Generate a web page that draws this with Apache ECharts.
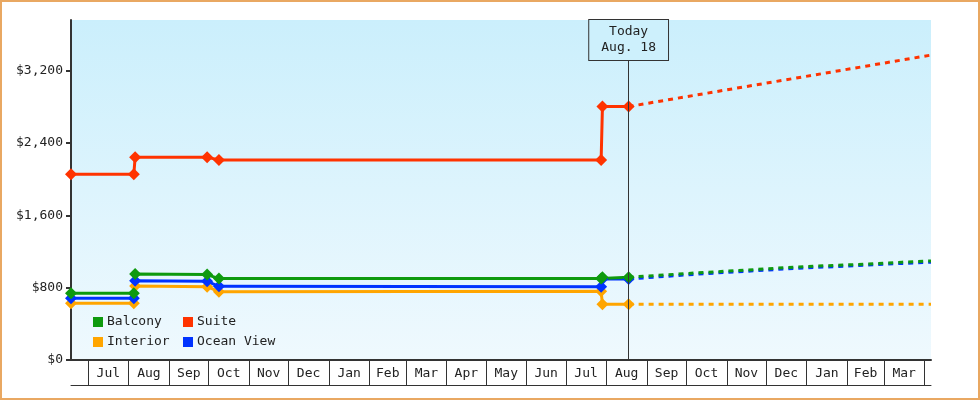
<!DOCTYPE html>
<html>
<head>
<meta charset="utf-8">
<title>Cabin price history</title>
<script src="https://cdn.jsdelivr.net/npm/echarts@6/dist/echarts.min.js"></script>
<style>
  html, body { margin: 0; padding: 0; background: #fff; }
  #chart { width: 980px; height: 400px; box-sizing: border-box; border: 2px solid #e9a862; }
</style>
</head>
<body>
<div id="chart"></div>
<script>
  // price history (solid) and forecast (dashed)
  var histDates = ['2024-06-18', '2024-08-05', '2024-08-06', '2024-09-30', '2024-10-09', '2025-07-28', '2025-07-29', '2025-08-18'];
  var balconyHist = [738, 738, 952, 945, 900, 900, 915, 915];
  var suiteHist = [2055, 2055, 2243, 2243, 2213, 2213, 2803, 2803];
  var interiorHist = [627, 627, 819, 811, 756, 760, 616, 616];
  var oceanHist = [683, 683, 877, 870, 815, 811, 895, 895];

  var forecastDates = ['2025-08-18', '2025-09-15', '2025-10-15', '2025-11-15', '2025-12-15', '2026-01-15', '2026-02-15', '2026-03-15', '2026-04-06'];
  var balconyForecast = [915, 941, 969, 993, 1021, 1042, 1060, 1082, 1095];
  var suiteForecast = [2803, 2872, 2946, 3022, 3096, 3172, 3249, 3318, 3372];
  var interiorForecast = [616, 616, 616, 616, 616, 616, 616, 616, 616];
  var oceanForecast = [895, 925, 955, 980, 1007, 1028, 1048, 1068, 1081];

  var monthTicks = ['2024-07-01', '2024-08-01', '2024-09-01', '2024-10-01', '2024-11-01', '2024-12-01',
    '2025-01-01', '2025-02-01', '2025-03-01', '2025-04-01', '2025-05-01', '2025-06-01', '2025-07-01',
    '2025-08-01', '2025-09-01', '2025-10-01', '2025-11-01', '2025-12-01', '2026-01-01', '2026-02-01',
    '2026-03-01', '2026-04-01'];
  var monthLabels = ['Jul', 'Aug', 'Sep', 'Oct', 'Nov', 'Dec', 'Jan', 'Feb', 'Mar', 'Apr', 'May', 'Jun',
    'Jul', 'Aug', 'Sep', 'Oct', 'Nov', 'Dec', 'Jan', 'Feb', 'Mar'];
  var yTicks = [0, 800, 1600, 2400, 3200];

  var axisMin = '2024-06-18';
  var axisMax = '2026-04-06';
  var yMax = 3760;
  var today = '2025-08-18';
  var todayLabel = 'Today\nAug. 18';

  var font = 'DejaVu Sans Mono';
  var colors = {
    Balcony: '#0e9a0e',
    Suite: '#ff3300',
    Interior: '#ffa500',
    'Ocean View': '#0033ff'
  };

  var toTime = function (d) {
    return new Date(d + 'T00:00:00').getTime();
  };

  // label sits in the middle of each month cell
  var tickTimes = monthTicks.map(toTime);
  var labelTimes = [];
  for (var i = 0; i < tickTimes.length - 1; i++) {
    labelTimes.push((tickTimes[i] + tickTimes[i + 1]) / 2);
  }

  var pair = function (dates, values) {
    return dates.map(function (d, i) {
      return [toTime(d), values[i]];
    });
  };

  var histSeries = function (name, values) {
    return {
      name: name,
      type: 'line',
      data: pair(histDates, values),
      symbol: 'diamond',
      symbolSize: 12,
      showSymbol: true,
      lineStyle: {width: 3, color: colors[name]},
      itemStyle: {color: colors[name]},
      z: 3
    };
  };

  var forecastSeries = function (name, values) {
    return {
      name: name,
      type: 'line',
      data: pair(forecastDates, values),
      symbol: 'none',
      lineStyle: {width: 3, type: [5, 5], color: colors[name]},
      itemStyle: {color: colors[name]},
      z: 2
    };
  };

  var suite = histSeries('Suite', suiteHist);
  suite.markLine = {
    silent: true,
    symbol: ['none', 'none'],
    lineStyle: {color: '#333', width: 1, type: 'solid'},
    label: {
      show: true,
      position: 'end',
      distance: -40,
      formatter: todayLabel,
      fontFamily: font,
      fontSize: 13,
      lineHeight: 16,
      color: '#222',
      backgroundColor: '#cdf0fc',
      borderColor: '#333',
      borderWidth: 1,
      padding: [4, 12, 4, 12]
    },
    data: [{xAxis: toTime(today)}]
  };

  var legendText = {fontFamily: font, fontSize: 13, color: '#222', lineHeight: 14, padding: [0, 0, 0, -1]};

  var chart = echarts.init(document.getElementById('chart'));
  chart.setOption({
    animation: false,
    textStyle: {fontFamily: font},
    grid: {
      left: 69, right: 47, top: 18, bottom: 38,
      show: true,
      borderWidth: 0,
      backgroundColor: {
        type: 'linear', x: 0, y: 0, x2: 0, y2: 1,
        colorStops: [{offset: 0, color: '#cbeffc'}, {offset: 1, color: '#eff9fe'}]
      }
    },
    legend: [{
      orient: 'vertical',
      left: 86, top: 308,
      itemWidth: 10, itemHeight: 10, itemGap: 6,
      icon: 'rect',
      textStyle: legendText,
      data: ['Balcony', 'Interior']
    }, {
      orient: 'vertical',
      left: 176, top: 308,
      itemWidth: 10, itemHeight: 10, itemGap: 6,
      icon: 'rect',
      textStyle: legendText,
      data: ['Suite', 'Ocean View']
    }],
    xAxis: [{
      type: 'value',
      min: toTime(axisMin),
      max: toTime(axisMax),
      axisLine: {show: true, lineStyle: {color: '#333', width: 2}},
      axisTick: {show: true, customValues: tickTimes, length: 25, lineStyle: {color: '#333', width: 1}},
      axisLabel: {
        customValues: labelTimes,
        margin: 7,
        fontFamily: font,
        fontSize: 13,
        color: '#222',
        hideOverlap: false,
        formatter: function (value) {
          var idx = labelTimes.indexOf(value);
          return idx < 0 ? '' : monthLabels[idx];
        }
      },
      splitLine: {show: false}
    }, {
      type: 'value',
      min: toTime(axisMin),
      max: toTime(axisMax),
      position: 'bottom',
      offset: 25,
      axisLine: {show: true, lineStyle: {color: '#333', width: 1}},
      axisTick: {show: false},
      axisLabel: {show: false},
      splitLine: {show: false}
    }],
    yAxis: {
      type: 'value',
      min: 0,
      max: yMax,
      axisLine: {show: true, lineStyle: {color: '#333', width: 2}},
      axisTick: {show: true, customValues: yTicks, length: 5, lineStyle: {color: '#333', width: 2}},
      axisLabel: {
        customValues: yTicks,
        margin: 8,
        fontFamily: font,
        fontSize: 13,
        color: '#222',
        formatter: function (v) {
          return '$' + v.toLocaleString('en-US');
        }
      },
      splitLine: {show: false}
    },
    series: [
      forecastSeries('Interior', interiorForecast),
      histSeries('Interior', interiorHist),
      forecastSeries('Ocean View', oceanForecast),
      histSeries('Ocean View', oceanHist),
      forecastSeries('Balcony', balconyForecast),
      histSeries('Balcony', balconyHist),
      forecastSeries('Suite', suiteForecast),
      suite
    ]
  });
</script>
</body>
</html>
